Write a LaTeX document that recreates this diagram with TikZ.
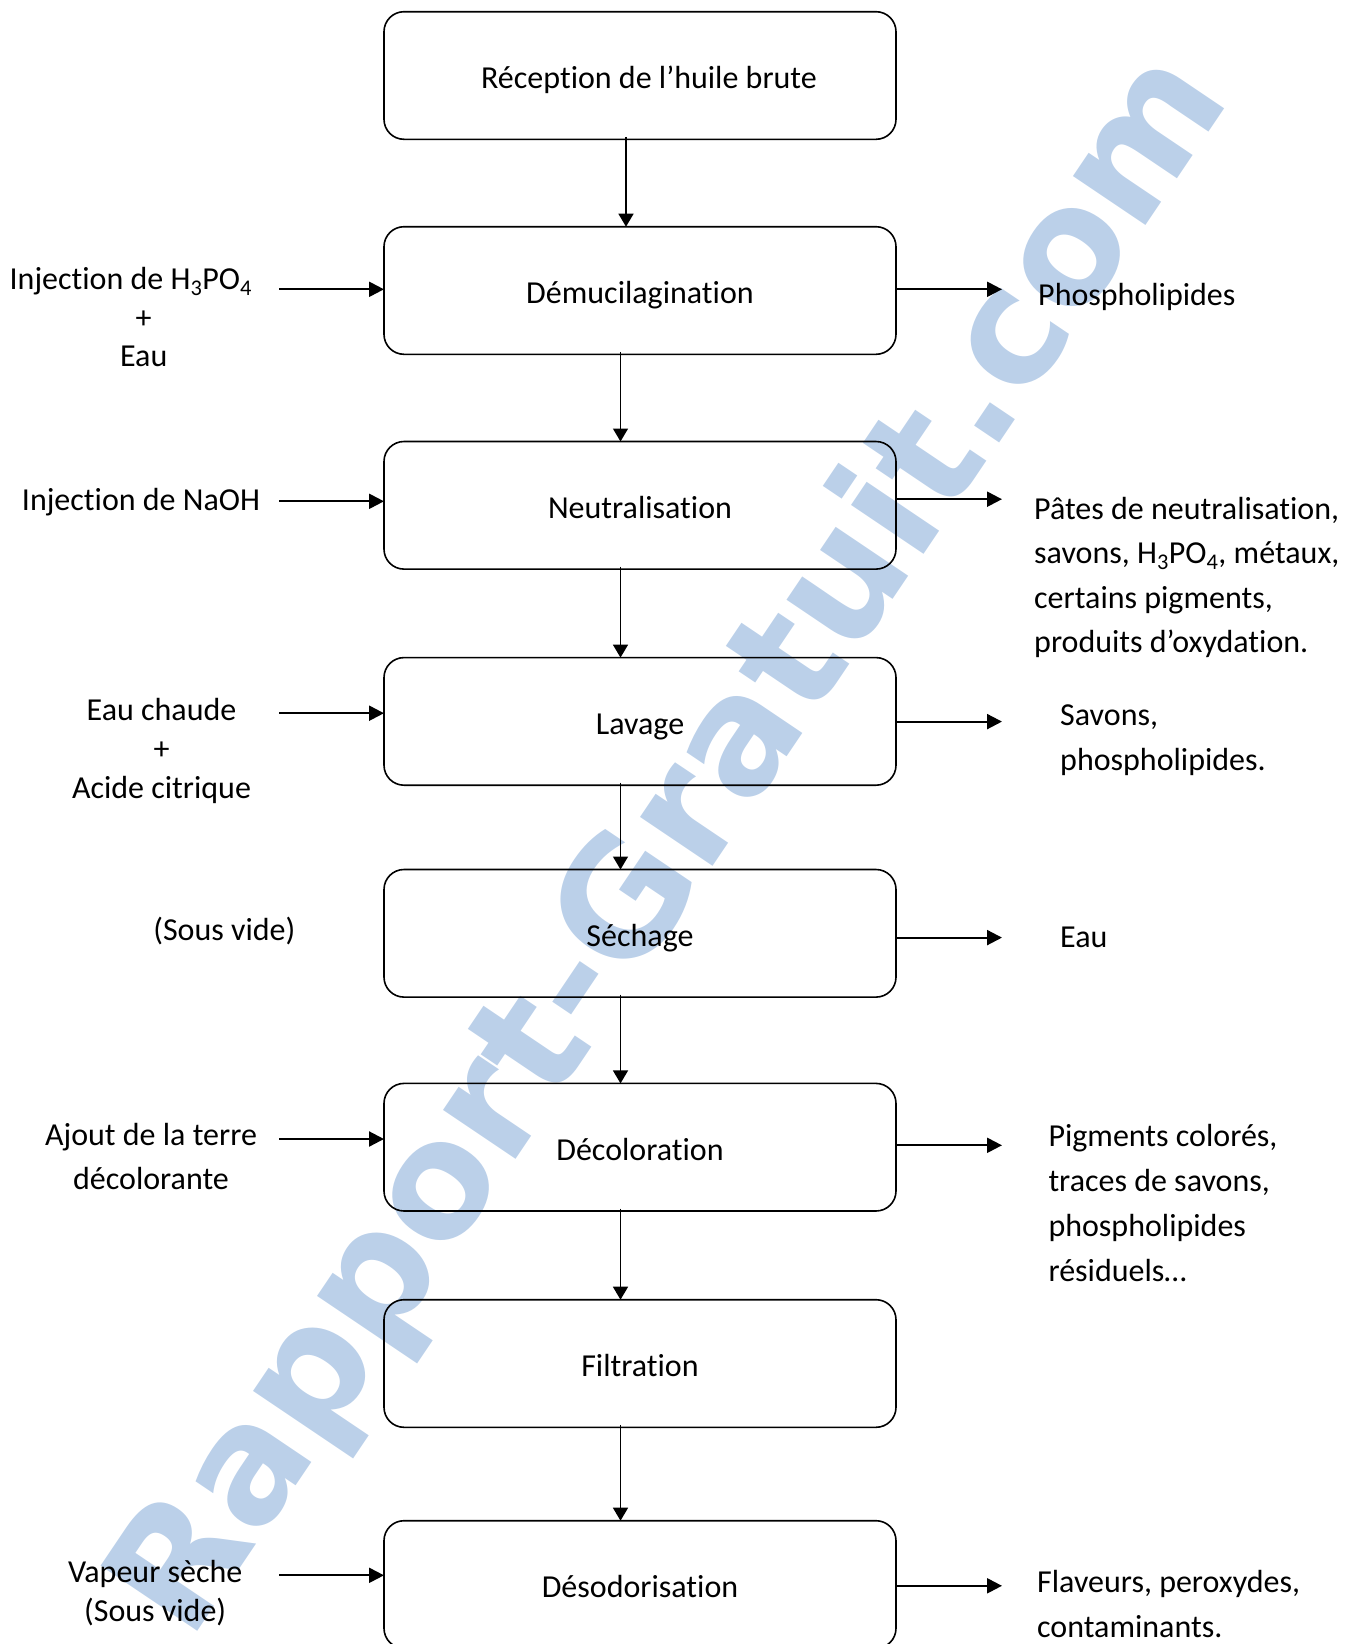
\documentclass[tikz,border=0pt]{standalone}
\usepackage{fontspec}
\setmainfont{Carlito}[Ligatures=NoCommon]
\newfontfamily\wmfont{DejaVu Sans}
\usetikzlibrary{arrows.meta}
\definecolor{wmblue}{RGB}{187,208,233}
\newcommand\diagfont{\fontsize{32}{38}\selectfont}
\begin{document}
\begin{tikzpicture}[x=1pt,y=-1pt,
  box/.style={draw, line width=1.6pt, rounded corners=20pt, minimum width=512pt,
    minimum height=127.6pt, inner sep=0pt, outer sep=0pt,
    text height=32pt, text depth=6pt, font=\diagfont},
  lt/.style={anchor=base, inner sep=0pt, font=\diagfont},
  rt/.style={anchor=base west, inner sep=0pt, font=\diagfont},
  vert/.style={line width=1.5pt, -{Triangle[length=13pt,width=15pt]}},
  side/.style={line width=2.2pt, -{Triangle[length=15pt,width=15pt]}}]
\useasboundingbox (0,0) rectangle (1353,1644);
\clip (0,0) rectangle (1353,1644);

% watermark
\node[rotate=56, text=wmblue, font=\wmfont\bfseries\fontsize{160}{160}\selectfont, inner sep=0pt]
  (wm) at (674,846) {Rapport-Gratuit.com};

% boxes
\node[box] (b1) at (640,75.5)   {\hspace*{18pt}Réception de l’huile brute};
\node[box] (b2) at (640,290.5)  {Démucilagination};
\node[box] (b3) at (640,505.3)  {Neutralisation};
\node[box] (b4) at (640,721.4)  {Lavage};
\node[box] (b5) at (640,933.3)  {Séchage};
\node[box] (b6) at (640,1147.2) {Décoloration};
\node[box] (b7) at (640,1363.5) {Filtration};
\node[box] (b8) at (640,1584.5) {Désodorisation};

% vertical arrows
\draw[vert] ([xshift=-14pt,yshift=2.5pt]b1.south) -- ([xshift=-14pt]b2.north);
\draw[vert] ([xshift=-19.5pt,yshift=2.5pt]b2.south) -- ([xshift=-19.5pt]b3.north);
\draw[vert] ([xshift=-19.5pt,yshift=2.5pt]b3.south) -- ([xshift=-19.5pt]b4.north);
\draw[vert] ([xshift=-19.5pt,yshift=2.5pt]b4.south) -- ([xshift=-19.5pt]b5.north);
\draw[vert] ([xshift=-19.5pt,yshift=2.5pt]b5.south) -- ([xshift=-19.5pt]b6.north);
\draw[vert] ([xshift=-19.5pt,yshift=2.5pt]b6.south) -- ([xshift=-19.5pt]b7.north);
\draw[vert] ([xshift=-19.5pt,yshift=2.5pt]b7.south) -- ([xshift=-19.5pt]b8.north);

% left inputs
\coordinate (s2) at (279,289.3);
\coordinate (s3) at (279,501.3);
\coordinate (s4) at (279,713.2);
\coordinate (s6) at (279,1139);
\coordinate (s8) at (279,1575.3);
\draw[side] (s2) -- (s2 -| b2.west);
\draw[side] (s3) -- (s3 -| b3.west);
\draw[side] (s4) -- (s4 -| b4.west);
\draw[side] (s6) -- (s6 -| b6.west);
\draw[side] (s8) -- (s8 -| b8.west);

% right outputs
\coordinate (e2) at (1002,289.3);
\coordinate (e3) at (1002,499.2);
\coordinate (e4) at (1002,721.6);
\coordinate (e5) at (1002,937.6);
\coordinate (e6) at (1002,1145.3);
\coordinate (e8) at (1002,1585.8);
\draw[side] (e2 -| b2.east) -- (e2);
\draw[side] (e3 -| b3.east) -- (e3);
\draw[side] (e4 -| b4.east) -- (e4);
\draw[side] (e5 -| b5.east) -- (e5);
\draw[side] (e6 -| b6.east) -- (e6);
\draw[side] (e8 -| b8.east) -- (e8);

% left texts
\node[lt] (l2a) at (130.8,289.3) {Injection de H\textsubscript{3}PO\textsubscript{4}};
\node[lt] (l2b) at (143.7,328) {+};
\node[lt] (l2c) at (143.7,366.7) {Eau};
\node[lt] (l3) at (141,510.5) {Injection de NaOH};
\node[lt] (l4a) at (161.5,720.5) {Eau chaude};
\node[lt] (l4b) at (161.5,759.5) {+};
\node[lt] (l4c) at (161.5,798.5) {Acide citrique};
\node[lt] (l5) at (224.4,940) {(Sous vide)};
\node[lt] (l6a) at (151,1145.5) {Ajout de la terre};
\node[lt] (l6b) at (151,1189) {décolorante};
\node[lt] (l8a) at (155.2,1582) {Vapeur sèche};
\node[lt] (l8b) at (155.2,1621) {(Sous vide)};

% right texts
\node[rt] (r2) at (1038,305.5) {Phospholipides};
\node[rt] (r3a) at (1034,519) {Pâtes de neutralisation,};
\node[rt] (r3b) at (1034,563.5) {savons, H\textsubscript{3}PO\textsubscript{4}, métaux,};
\node[rt] (r3c) at (1034,608) {certains pigments,};
\node[rt] (r3d) at (1034,652.5) {produits d’oxydation.};
\node[rt] (r4a) at (1060,725) {Savons,};
\node[rt] (r4b) at (1060,770) {phospholipides.};
\node[rt] (r5) at (1060,947) {Eau};
\node[rt] (r6a) at (1048.3,1146.5) {Pigments colorés,};
\node[rt] (r6b) at (1048.3,1191.5) {traces de savons,};
\node[rt] (r6c) at (1048.3,1236.5) {phospholipides};
\node[rt] (r6d) at (1048.3,1281.5) {résiduels…};
\node[rt] (r8a) at (1037,1592) {Flaveurs, peroxydes,};
\node[rt] (r8b) at (1037,1637) {contaminants.};
\end{tikzpicture}
\end{document}
